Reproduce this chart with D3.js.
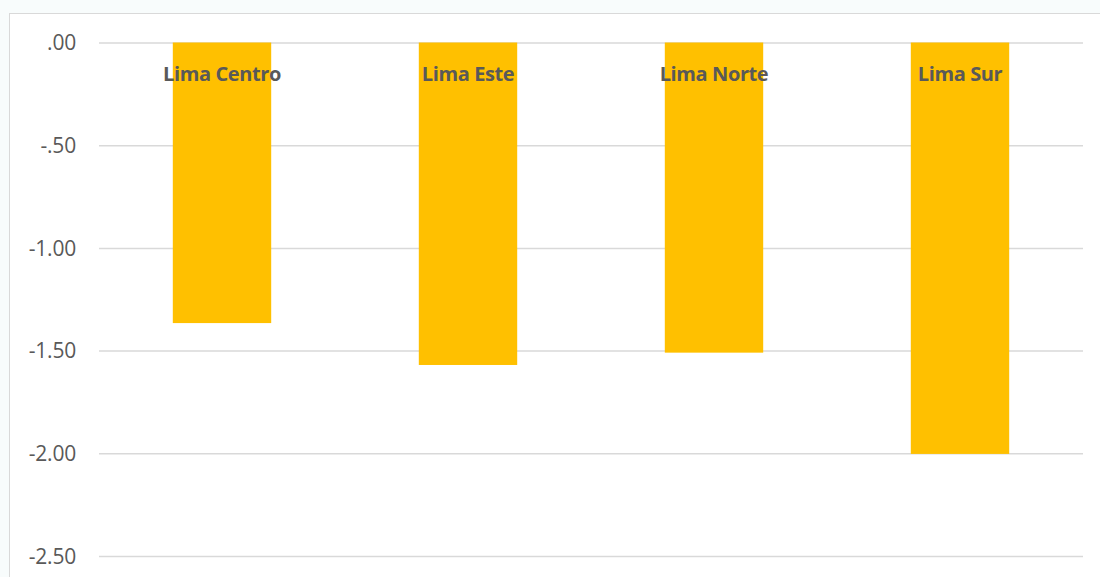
<!DOCTYPE html>
<html><head><meta charset="utf-8">
<script src="https://cdn.jsdelivr.net/npm/d3@7"></script>
<style>
html,body{margin:0;padding:0;background:#f8fcfc;}
svg{display:block;}
</style></head>
<body><svg id="c" width="1100" height="577"></svg>
<script>
const categories = ["Lima Centro","Lima Este","Lima Norte","Lima Sur"];
const values = [-1.366,-1.570,-1.510,-2.003];
const tickValues = [0,-0.5,-1.0,-1.5,-2.0,-2.5];
const tickLabels = [".00","-.50","-1.00","-1.50","-2.00","-2.50"];

const svg = d3.select("#c");
svg.append("rect").attr("x",9.5).attr("y",13.5).attr("width",1200).attr("height",700)
  .attr("fill","#fff").attr("stroke","#d9d9d9").attr("stroke-width",1);

const x = d3.scaleBand().domain(categories).range([99,1083]).paddingInner(0.6).paddingOuter(0.3);
const y = d3.scaleLinear().domain([-2.5,0]).range([556,42.5]);

const yAxis = d3.axisLeft(y).tickValues(tickValues).tickSize(-(1083-99))
  .tickFormat((d,i)=>tickLabels[i]);
const g = svg.append("g").attr("transform","translate(99,0)").call(yAxis);
g.select(".domain").remove();
g.selectAll(".tick line").attr("stroke","#d9d9d9").attr("stroke-width",1.5);
g.selectAll(".tick text").attr("x",-23).attr("dy","0.35em").attr("fill","#595959")
  .style("font-family","'Open Sans', sans-serif").style("font-size","21px")
  .style("letter-spacing","-0.2px");

svg.append("g").selectAll("rect").data(categories).join("rect")
  .attr("x",d=>x(d)).attr("width",x.bandwidth())
  .attr("y",y(0)).attr("height",(d,i)=>y(values[i])-y(0))
  .attr("fill","#ffc000");

svg.append("g").selectAll("text").data(categories).join("text")
  .attr("x",d=>x(d)+x.bandwidth()/2).attr("y",81)
  .attr("text-anchor","middle").attr("fill","#595959")
  .style("font-family","'Open Sans', sans-serif").style("font-weight","bold").style("font-size","20px")
  .style("letter-spacing","-0.4px")
  .text(d=>d);
</script></body></html>
